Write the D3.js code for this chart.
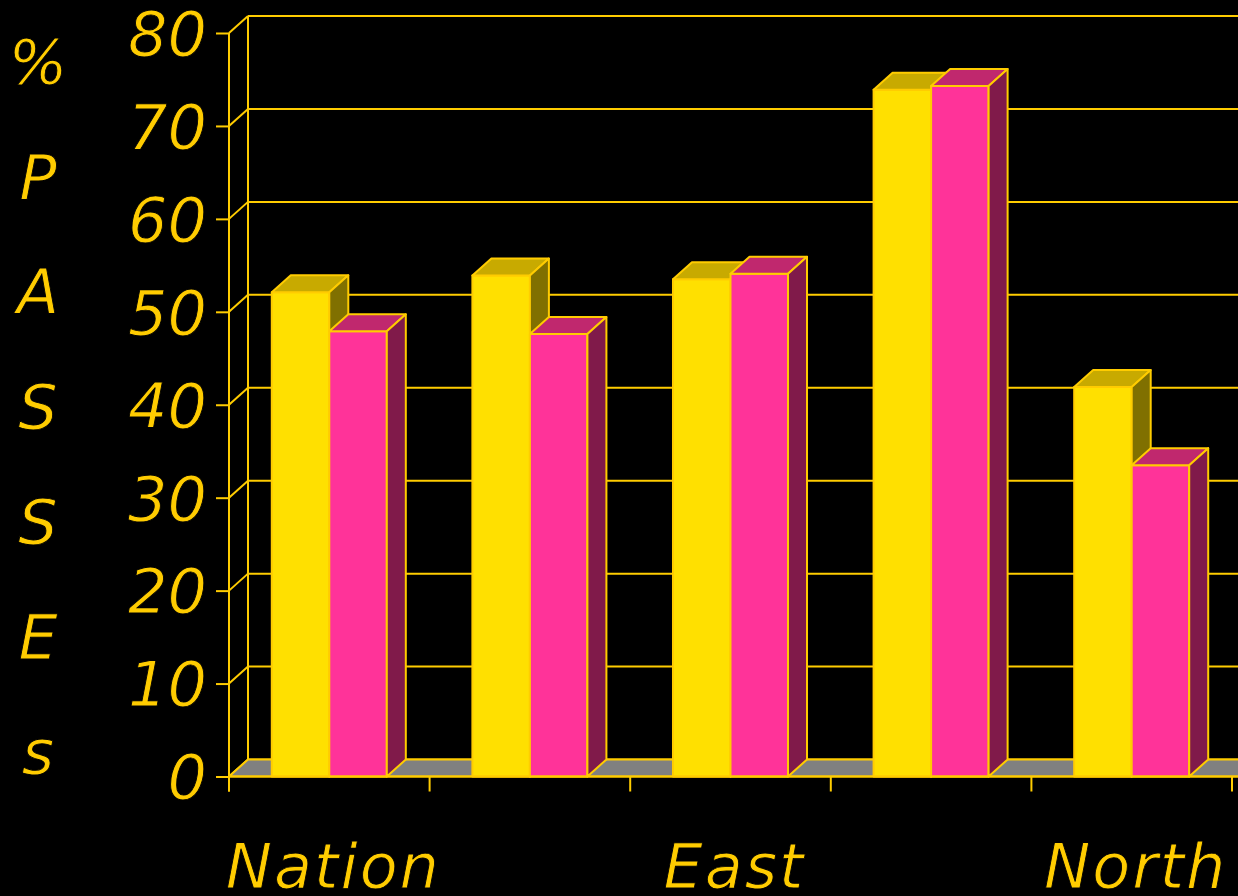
<!DOCTYPE html>
<html><head><meta charset="utf-8">
<script src="https://cdn.jsdelivr.net/npm/d3@7"></script>
<style>html,body{margin:0;padding:0;background:#000;} svg{display:block}</style>
</head><body>
<svg id="chart" width="1238" height="896"></svg>
<script>
const categories = ["Nation","Group 2","East","Group 4","North"];
const tickLabels = ["Nation","","East","","North"];
const seriesNames = ["Series A","Series B"];
const seriesA = [52.1, 53.9, 53.5, 73.9, 41.9];
const seriesB = [47.9, 47.6, 54.1, 74.3, 33.5];
const yTicks = [0,10,20,30,40,50,60,70,80];
const yTitle = ["%","P","A","S","S","E","s"];

const W = 1238, H = 896;
const DX = 19, DY = -17;
const FONT = "'DejaVu Sans', Verdana, sans-serif";
const COL = {line:"#FFCC00", text:"#FFCC00", floor:"#808080",
  faces:[{front:"#FFE000", top:"#C8AA00", side:"#807000"},
         {front:"#FF3399", top:"#C0286E", side:"#801A4A"}]};

const svg = d3.select("#chart");
svg.append("rect").attr("width", W).attr("height", H).attr("fill", "#000");

const x = d3.scaleBand().domain(categories).range([229, 1232]);
const xs = d3.scaleBand().domain(seriesNames).range([0, x.bandwidth()]).paddingOuter(0.744);
const y = d3.scaleLinear().domain([0, 80]).range([776.5, 33]);
const X0 = x.range()[0], Y0 = y(0);

function styleText(sel) {
  sel.attr("fill", COL.text).attr("font-family", FONT)
    .attr("font-style", "italic").attr("font-size", 62)
    .attr("stroke", "#000").attr("stroke-width", 0.9);
}

// back wall grid
const wall = svg.append("g").attr("stroke", COL.line).attr("stroke-width", 2).attr("fill", "none");
wall.selectAll("line.grid").data(yTicks).join("line").attr("class","grid")
  .attr("x1", X0 + DX).attr("x2", W + 5)
  .attr("y1", d => y(d) + DY).attr("y2", d => y(d) + DY);
wall.selectAll("line.diag").data(yTicks).join("line").attr("class","diag")
  .attr("x1", X0).attr("y1", d => y(d))
  .attr("x2", X0 + DX).attr("y2", d => y(d) + DY);
wall.append("line").attr("x1", X0 + DX).attr("x2", X0 + DX)
  .attr("y1", y(80) + DY).attr("y2", Y0 + DY);

// floor
svg.append("polygon")
  .attr("points", [[X0, Y0], [X0 + DX, Y0 + DY], [W + 40, Y0 + DY], [W + 40, Y0]].join(" "))
  .attr("fill", COL.floor).attr("stroke", COL.line).attr("stroke-width", 2);

// bars
const bars = [];
categories.forEach((c, i) => {
  [seriesA, seriesB].forEach((arr, s) => bars.push({c, s, v: arr[i], name: seriesNames[s]}));
});
const bg = svg.append("g").attr("stroke", COL.line).attr("stroke-width", 2).attr("stroke-linejoin", "round");
bars.forEach(b => {
  const x0 = x(b.c) + xs(b.name), w = xs.bandwidth(), yt = y(b.v);
  const f = COL.faces[b.s];
  const g = bg.append("g");
  g.append("rect").attr("x", x0).attr("y", yt).attr("width", w).attr("height", Y0 - yt).attr("fill", f.front);
  g.append("polygon").attr("points", [[x0, yt], [x0 + DX, yt + DY], [x0 + w + DX, yt + DY], [x0 + w, yt]].join(" ")).attr("fill", f.top);
  g.append("polygon").attr("points", [[x0 + w, yt], [x0 + w + DX, yt + DY], [x0 + w + DX, Y0 + DY], [x0 + w, Y0]].join(" ")).attr("fill", f.side);
});

// y axis
const yAxis = svg.append("g").attr("transform", `translate(${X0},0)`)
  .call(d3.axisLeft(y).tickValues(yTicks).tickSize(13).tickPadding(9));
yAxis.select(".domain").remove();
yAxis.selectAll("line").attr("stroke", COL.line).attr("stroke-width", 2);
yAxis.selectAll("text").call(styleText).attr("dy", "0.36em");
svg.append("line").attr("x1", X0).attr("x2", X0).attr("y1", y(80)).attr("y2", Y0 + 15)
  .attr("stroke", COL.line).attr("stroke-width", 2);

// x axis
svg.append("line").attr("x1", X0).attr("x2", W + 5).attr("y1", Y0).attr("y2", Y0)
  .attr("stroke", COL.line).attr("stroke-width", 2);
const bounds = categories.map(c => x(c)).concat([x.range()[1]]);
svg.selectAll("line.xtick").data(bounds).join("line").attr("class", "xtick")
  .attr("x1", d => d).attr("x2", d => d).attr("y1", Y0).attr("y2", Y0 + 15)
  .attr("stroke", COL.line).attr("stroke-width", 2);
svg.selectAll("text.xlab").data(categories).join("text").attr("class", "xlab")
  .attr("x", (c) => x(c) + x.bandwidth() / 2 + 4).attr("y", 888)
  .attr("text-anchor", "middle").call(styleText).attr("letter-spacing", 2)
  .text((c, i) => tickLabels[i]);

// y title
svg.selectAll("text.ytitle").data(yTitle).join("text").attr("class", "ytitle")
  .attr("x", 38).attr("y", (d, i) => 84 + i * 115)
  .attr("text-anchor", "middle").call(styleText).text(d => d);
</script>
</body></html>
